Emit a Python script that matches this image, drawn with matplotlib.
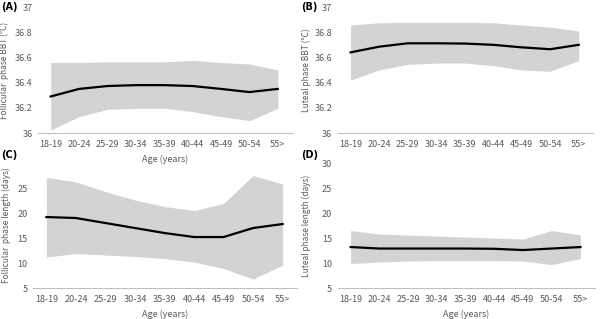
import matplotlib
matplotlib.use("Agg")
import matplotlib.pyplot as plt

plt.rcParams['font.family'] = ['Noto Sans CJK JP', 'DejaVu Sans']

ages = ["18-19", "20-24", "25-29", "30-34", "35-39", "40-44", "45-49", "50-54", "55>"]

fol_bbt_mean = [36.29, 36.35, 36.373, 36.38, 36.38, 36.373, 36.35, 36.325, 36.35]
fol_bbt_upper = [36.56, 36.56, 36.565, 36.565, 36.565, 36.577, 36.56, 36.548, 36.50]
fol_bbt_lower = [36.024, 36.13, 36.188, 36.196, 36.196, 36.17, 36.13, 36.098, 36.196]

lut_bbt_mean = [36.64, 36.685, 36.712, 36.712, 36.71, 36.70, 36.68, 36.665, 36.70]
lut_bbt_upper = [36.857, 36.875, 36.878, 36.878, 36.878, 36.875, 36.857, 36.84, 36.81]
lut_bbt_lower = [36.42, 36.50, 36.545, 36.555, 36.555, 36.535, 36.50, 36.49, 36.575]

fol_len_mean = [19.2, 19.0, 18.0, 17.0, 16.0, 15.2, 15.2, 17.0, 17.8]
fol_len_upper = [27.15, 26.2, 24.3, 22.6, 21.3, 20.5, 21.9, 27.5, 25.8]
fol_len_lower = [11.2, 11.9, 11.6, 11.3, 10.9, 10.2, 8.9, 6.8, 9.6]

lut_len_mean = [13.2, 12.9, 12.9, 12.9, 12.9, 12.85, 12.6, 12.9, 13.2]
lut_len_upper = [16.5, 15.8, 15.6, 15.4, 15.2, 15.0, 14.8, 16.5, 15.6]
lut_len_lower = [9.9, 10.2, 10.4, 10.5, 10.5, 10.5, 10.4, 9.7, 10.9]

fig = plt.figure(figsize=(6.02, 3.19), dpi=100)

gray_txt = "#595959"
fill_c = "#d3d3d3"

panels = [
    dict(rect=[0.063, 0.583, 0.422, 0.395], mean=fol_bbt_mean, up=fol_bbt_upper, lo=fol_bbt_lower,
         ylim=(36, 37), yticks=[36, 36.2, 36.4, 36.6, 36.8, 37],
         yticklabels=["36", "36.2", "36.4", "36.6", "36.8", "37"],
         ylabel="Follicular  phase BBT (°C)", xlabel="Age (years)", tag="(A)", labx=-0.112),
    dict(rect=[0.561, 0.583, 0.424, 0.395], mean=lut_bbt_mean, up=lut_bbt_upper, lo=lut_bbt_lower,
         ylim=(36, 37), yticks=[36, 36.2, 36.4, 36.6, 36.8, 37],
         yticklabels=["36", "36.2", "36.4", "36.6", "36.8", "37"],
         ylabel="Luteal phase BBT (°C)", xlabel=None, tag="(B)", labx=-0.104),
    dict(rect=[0.055, 0.097, 0.439, 0.392], mean=fol_len_mean, up=fol_len_upper, lo=fol_len_lower,
         ylim=(5, 30), yticks=[5, 10, 15, 20, 25],
         yticklabels=["5", "10", "15", "20", "25"],
         ylabel="Follicular  phase length (days)", xlabel="Age (years)", tag="(C)", labx=-0.082),
    dict(rect=[0.561, 0.097, 0.427, 0.392], mean=lut_len_mean, up=lut_len_upper, lo=lut_len_lower,
         ylim=(5, 30), yticks=[5, 10, 15, 20, 25, 30],
         yticklabels=["5", "10", "15", "20", "25", "30"],
         ylabel="Luteal phase length (days)", xlabel="Age (years)", tag="(D)", labx=-0.103),
]

tag_px = {"(A)": (1, 7), "(B)": (301, 7), "(C)": (1, 155), "(D)": (301, 155)}

x = list(range(len(ages)))
for p in panels:
    ax = fig.add_axes(p["rect"])
    ax.fill_between(x, p["lo"], p["up"], color=fill_c, linewidth=0)
    ax.plot(x, p["mean"], color="black", linewidth=1.6)
    ax.set_xlim(-0.45, 8.5)
    ax.set_ylim(*p["ylim"])
    ax.set_yticks(p["yticks"])
    ax.set_yticklabels(p["yticklabels"])
    ax.set_xticks(x)
    ax.set_xticklabels(ages)
    for s in ["top", "right", "left"]:
        ax.spines[s].set_visible(False)
    ax.spines["bottom"].set_color("#bfbfbf")
    ax.spines["bottom"].set_linewidth(0.8)
    ax.tick_params(axis="both", length=0, labelsize=6.5, colors=gray_txt, pad=4)
    ax.tick_params(axis="x", pad=5)
    ax.set_ylabel(p["ylabel"], fontsize=6, color=gray_txt)
    ax.yaxis.set_label_coords(p["labx"], 0.5)
    if p["xlabel"]:
        ax.set_xlabel(p["xlabel"], fontsize=6.5, color=gray_txt, labelpad=4)
    ax.patch.set_alpha(0)
    tx, ty = tag_px[p["tag"]]
    fig.text(tx / 602, 1 - ty / 319, p["tag"], fontsize=7, fontweight="bold",
             color="black", va="center", ha="left", family=["DejaVu Sans"])

fig.savefig("out.png", dpi=100)
